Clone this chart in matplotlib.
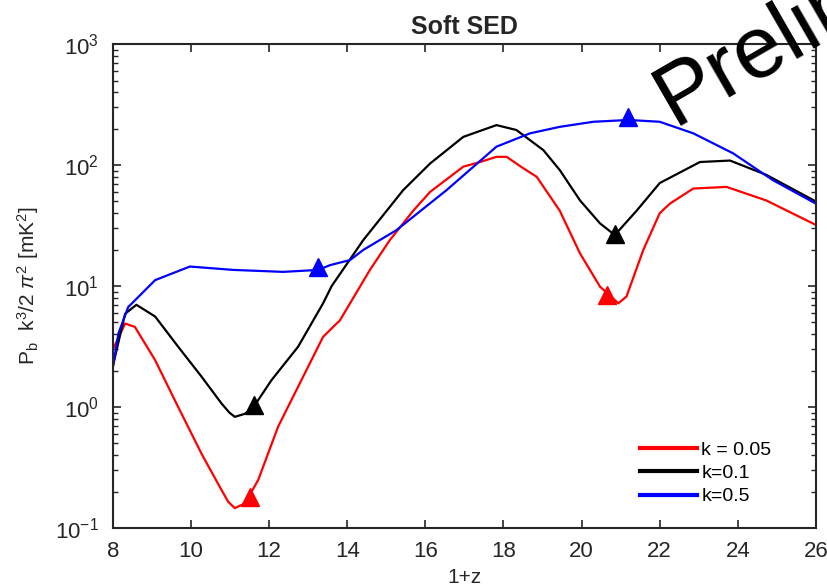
import matplotlib
matplotlib.use("Agg")
import matplotlib.pyplot as plt
from matplotlib.ticker import LogLocator, NullFormatter, FixedLocator

plt.rcParams["font.family"] = ["Liberation Sans", "DejaVu Sans"]
plt.rcParams["mathtext.fontset"] = "custom"
plt.rcParams["mathtext.rm"] = "Liberation Sans"
plt.rcParams["mathtext.it"] = "Liberation Sans:italic"

TXT = "#262626"

# --- power spectrum curves, 1+z vs P_b k^3/2pi^2 ---
red_z = [8.0, 8.31, 8.56, 9.08, 9.67, 10.27, 10.78, 10.95, 11.12, 11.38,
         11.72, 12.23, 12.74, 13.38, 13.64, 13.81, 14.58, 15.09, 15.69, 16.12,
         16.97, 17.4, 17.82, 18.08, 18.51, 18.85, 19.44, 19.96, 20.47, 20.94,
         21.15, 21.58, 22.0, 22.26, 22.86, 23.71, 24.73, 26.0]
red_p = [3.0, 4.9, 4.6, 2.44, 1.0, 0.41, 0.206, 0.165, 0.146, 0.16,
         0.25, 0.69, 1.47, 3.8, 4.6, 5.2, 13.6, 24, 42, 60,
         97, 106, 117, 117, 94, 80, 42, 18.6, 9.9, 7.2,
         8.2, 19.9, 40, 48, 64, 66, 51, 32]

black_z = [8.0, 8.31, 8.6, 9.08, 9.67, 10.27, 10.78, 10.98, 11.12, 11.38,
           11.6, 12.06, 12.74, 13.38, 13.6, 14.41, 15.43, 16.12, 16.97, 17.82,
           18.33, 19.02, 19.44, 19.96, 20.47, 20.85, 21.41, 22.0, 23.03, 23.8,
           24.73, 26.0]
black_p = [2.2, 5.9, 7.0, 5.6, 3.15, 1.78, 1.07, 0.9, 0.83, 0.88,
           1.0, 1.67, 3.15, 7.2, 10.0, 24, 62, 103, 171, 214,
           195, 133, 91, 51, 33, 26.4, 42, 71, 106, 109,
           83, 50]

blue_z = [8.0, 8.14, 8.39, 9.08, 9.97, 11.08, 12.36, 13.26, 13.56, 14.07,
          14.41, 15.26, 16.54, 17.82, 18.68, 19.44, 20.3, 21.2, 22.0, 22.86,
          23.88, 24.9, 26.0]
blue_p = [2.15, 4.06, 6.7, 11.2, 14.5, 13.6, 13.1, 13.6, 14.9, 16.4,
          19.9, 29, 62, 142, 183, 207, 228, 236, 228, 183,
          125, 75, 48]

# triangle markers
red_mz, red_mp = [11.51, 20.64], [0.18, 8.4]
black_mz, black_mp = [11.6, 20.85], [1.04, 27]
blue_mz, blue_mp = [13.26, 21.2], [14.5, 251]

labels = ["k = 0.05", "k=0.1", "k=0.5"]
x_ticks = [8, 10, 12, 14, 16, 18, 20, 22, 24, 26]

fig = plt.figure(figsize=(8.27, 5.88), dpi=100)
ax = fig.add_axes([0.1366, 0.102, 0.850, 0.823])

series = [(red_z, red_p, red_mz, red_mp, "#ff0000"),
          (black_z, black_p, black_mz, black_mp, "#000000"),
          (blue_z, blue_p, blue_mz, blue_mp, "#0000ff")]
for (z, p, mz, mp, c), lab in zip(series, labels):
    ax.plot(z, p, color=c, lw=1.6, label=lab, solid_joinstyle="round")
    ax.plot(mz, mp, linestyle="none", marker="^", ms=13, color=c)

ax.set_yscale("log")
ax.set_xlim(8, 26)
ax.set_ylim(0.1, 1000)
ax.xaxis.set_major_locator(FixedLocator(x_ticks))
ax.yaxis.set_major_locator(LogLocator(base=10, numticks=10))
ax.yaxis.set_minor_locator(LogLocator(base=10, subs=range(2, 10), numticks=20))
ax.yaxis.set_minor_formatter(NullFormatter())

ax.tick_params(which="both", direction="in", top=True, right=True,
               colors=TXT, labelsize=16)
ax.tick_params(axis="x", pad=9)
ax.tick_params(axis="y", pad=10)
ax.tick_params(which="major", length=6, width=1.2)
ax.tick_params(which="minor", length=3.5, width=1.0)
for s in ax.spines.values():
    s.set_color(TXT)
    s.set_linewidth(1.5)

ax.set_title("Soft SED", fontsize=18, fontweight="bold", color=TXT, pad=7)
ax.set_xlabel("1+z", fontsize=15, color=TXT, labelpad=5)
ax.set_ylabel(r"P$_\mathrm{b}$  k$^3$/2 $\pi^2$ [mK$^2$]", fontsize=15,
              color=TXT, labelpad=10)

leg = ax.legend(loc="upper left", bbox_to_anchor=(0.75, 0.18), frameon=False,
                fontsize=14, handlelength=2.9, handletextpad=0.25,
                labelspacing=0.3, borderpad=0, borderaxespad=0)
for line in leg.get_lines():
    line.set_linewidth(3)

fig.text(0.815, 0.787, "Preliminary", fontsize=63, rotation=30,
         rotation_mode="anchor", ha="left", va="baseline", color="black")

fig.savefig("out.png", dpi=100)
